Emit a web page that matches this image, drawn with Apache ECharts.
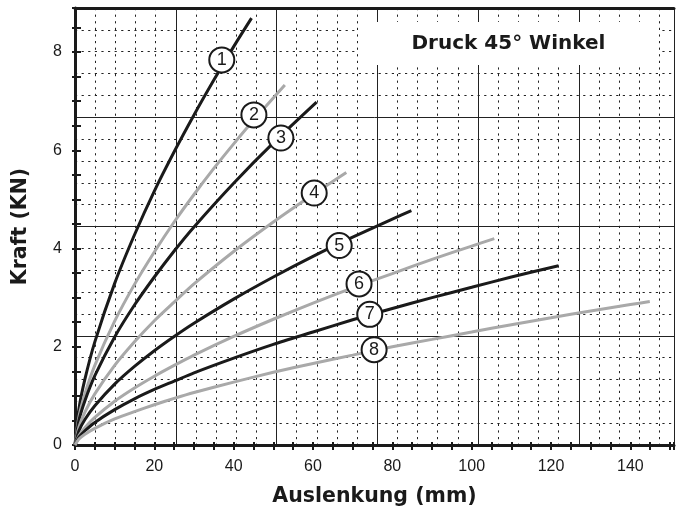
<!DOCTYPE html>
<html>
<head>
<meta charset="utf-8">
<script src="https://cdn.jsdelivr.net/npm/echarts@6/dist/echarts.min.js"></script>
<style>
html,body{margin:0;padding:0;background:#fff;}
#chart{width:677px;height:513px;}
</style>
</head>
<body>
<div id="chart"></div>
<script>
// Curves: [Auslenkung (mm), Kraft (kN)]
const curve1 = [[0,0],[1,0.74],[2.5,1.34],[5,2.10],[10,3.29],[15,4.28],[20,5.17],[25,5.97],[30,6.72],[35,7.43],[40,8.11],[44.5,8.69]];
const curve2 = [[0,0],[1,0.58],[2.5,1.04],[5,1.62],[10,2.52],[15,3.27],[20,3.93],[25,4.54],[30,5.10],[35,5.63],[40,6.13],[45,6.61],[52.9,7.33]];
const curve3 = [[0,0],[1,0.50],[2.5,0.90],[5,1.41],[10,2.20],[15,2.85],[20,3.42],[25,3.95],[30,4.44],[40,5.33],[50,6.15],[60.9,6.98]];
const curve4 = [[0,0],[1,0.37],[2.5,0.67],[5,1.04],[10,1.62],[15,2.10],[20,2.53],[25,2.91],[30,3.28],[40,3.94],[50,4.54],[60,5.10],[68.4,5.55]];
const curve5 = [[0,0],[1,0.29],[2.5,0.52],[5,0.80],[10,1.24],[15,1.60],[20,1.92],[25,2.21],[30,2.48],[40,2.97],[50,3.42],[60,3.84],[70,4.23],[80,4.60],[84.8,4.77]];
const curve6 = [[0,0],[1,0.19],[2.5,0.35],[5,0.56],[10,0.89],[15,1.16],[20,1.40],[25,1.62],[30,1.83],[40,2.21],[50,2.56],[60,2.89],[70,3.20],[80,3.49],[90,3.78],[100,4.05],[105.7,4.20]];
const curve7 = [[0,0],[1,0.16],[2.5,0.29],[5,0.46],[10,0.72],[15,0.94],[20,1.13],[25,1.30],[30,1.47],[40,1.77],[50,2.05],[60,2.30],[70,2.55],[80,2.78],[90,3.00],[100,3.21],[110,3.42],[121.9,3.65]];
const curve8 = [[0,0],[1,0.12],[2.5,0.22],[5,0.34],[10,0.53],[15,0.68],[20,0.82],[25,0.95],[30,1.07],[40,1.28],[50,1.48],[60,1.66],[70,1.83],[80,2.00],[90,2.15],[100,2.30],[110,2.45],[120,2.59],[130,2.73],[140,2.86],[144.9,2.92]];
const curveNames = ['1','2','3','4','5','6','7','8'];
const curveColors = ['#1a1a1a','#a9a9a9','#1a1a1a','#a9a9a9','#1a1a1a','#a9a9a9','#1a1a1a','#a9a9a9'];
// Circled curve numbers: [x, y, text]
const labelMarks = [[37.0,7.84,'1'],[45.1,6.72,'2'],[51.9,6.25,'3'],[60.3,5.13,'4'],[66.6,4.06,'5'],[71.6,3.28,'6'],[74.3,2.66,'7'],[75.4,1.94,'8']];
// Axis settings
const xMax = 151, yMax = 8.8964;
const xLabelStep = 20, xTickStep = 5, xInch = 25.4, xFine = 5.08;
const yLabelStep = 2, yTickStep = 0.5, yCoarse = 2.2241, yFine = 0.44482;
const titleText = 'Druck 45° Winkel';
const xName = 'Auslenkung (mm)', yName = 'Kraft (KN)';

const curves = [curve1,curve2,curve3,curve4,curve5,curve6,curve7,curve8];
const ink = '#1a1a1a';
const hidden = {axisLine:{show:false},axisTick:{show:false},axisLabel:{show:false}};

const chart = echarts.init(document.getElementById('chart'), null, {renderer:'canvas'});
const option = {
  animation:false,
  backgroundColor:'#ffffff',
  title:{
    text:titleText, left:358, top:22, padding:[11,53.5], backgroundColor:'#ffffff',
    textStyle:{fontFamily:'DejaVu Sans', fontWeight:'bold', fontSize:20, color:ink, lineHeight:21}
  },
  grid:{left:75, top:8, width:601, height:437, containLabel:false},
  xAxis:[
    Object.assign({type:'value', min:0, max:xMax, interval:xFine,
      splitLine:{show:true, lineStyle:{color:'#222', width:1, type:[2.2,4.4]}}}, hidden),
    Object.assign({type:'value', min:0, max:xMax, interval:xInch,
      splitLine:{show:true, lineStyle:{color:'#222', width:1, type:'solid'}}}, hidden),
    {type:'value', min:0, max:xMax, interval:xTickStep, position:'bottom',
      name:xName, nameLocation:'middle', nameGap:41,
      nameTextStyle:{fontFamily:'DejaVu Sans', fontWeight:'bold', fontSize:20.5, color:ink},
      axisLine:{show:true, onZero:false, lineStyle:{color:ink, width:3}},
      axisTick:{show:true, inside:false, length:5, lineStyle:{color:ink, width:2}},
      axisLabel:{show:true, margin:14, fontFamily:'Liberation Sans', fontSize:16, color:ink,
        formatter:function(v){ return (Math.abs(v % xLabelStep) < 1e-6 && v < xMax - 1) ? String(v) : ''; }},
      splitLine:{show:false}},
    {type:'value', min:0, max:xMax, interval:xTickStep, position:'bottom',
      axisLine:{show:false, onZero:false}, axisLabel:{show:false}, splitLine:{show:false},
      axisTick:{show:true, inside:true, length:3, lineStyle:{color:ink, width:2}}},
    {type:'value', min:0, max:xMax, position:'top',
      axisLine:{show:true, onZero:false, lineStyle:{color:ink, width:3}},
      axisTick:{show:false}, axisLabel:{show:false}, splitLine:{show:false}}
  ],
  yAxis:[
    Object.assign({type:'value', min:0, max:yMax, interval:yFine,
      splitLine:{show:true, lineStyle:{color:'#222', width:1, type:[2.2,4.4]}}}, hidden),
    Object.assign({type:'value', min:0, max:yMax, interval:yCoarse,
      splitLine:{show:true, lineStyle:{color:'#222', width:1, type:'solid'}}}, hidden),
    {type:'value', min:0, max:yMax, interval:yTickStep, position:'left',
      name:yName, nameLocation:'middle', nameGap:44,
      nameTextStyle:{fontFamily:'DejaVu Sans', fontWeight:'bold', fontSize:20.5, color:ink},
      axisLine:{show:true, onZero:false, lineStyle:{color:ink, width:3}},
      axisTick:{show:true, inside:false, length:3, lineStyle:{color:ink, width:2}},
      axisLabel:{show:true, margin:13, fontFamily:'Liberation Sans', fontSize:16, color:ink,
        formatter:function(v){ return (Math.abs(v % yLabelStep) < 1e-6 && v < yMax - 0.3) ? String(v) : ''; }},
      splitLine:{show:false}},
    {type:'value', min:0, max:yMax, interval:yTickStep, position:'left',
      axisLine:{show:false, onZero:false}, axisLabel:{show:false}, splitLine:{show:false},
      axisTick:{show:true, inside:true, length:6, lineStyle:{color:ink, width:2}}}
  ],
  series: curves.map(function(c,i){
    return {type:'line', name:curveNames[i], data:c, xAxisIndex:2, yAxisIndex:2,
      showSymbol:false, smooth:0.25, z:3,
      lineStyle:{color:curveColors[i], width:3}};
  }).concat([{
    type:'scatter', xAxisIndex:2, yAxisIndex:2, z:5,
    data:labelMarks.map(function(m){ return {value:[m[0],m[1]], name:m[2]}; }),
    symbol:'circle', symbolSize:25,
    itemStyle:{color:'#ffffff', borderColor:ink, borderWidth:2, opacity:1},
    label:{show:true, position:'inside', formatter:'{b}', fontFamily:'Liberation Sans', fontSize:18, color:ink}
  }])
};
chart.setOption(option);
</script>
</body>
</html>
